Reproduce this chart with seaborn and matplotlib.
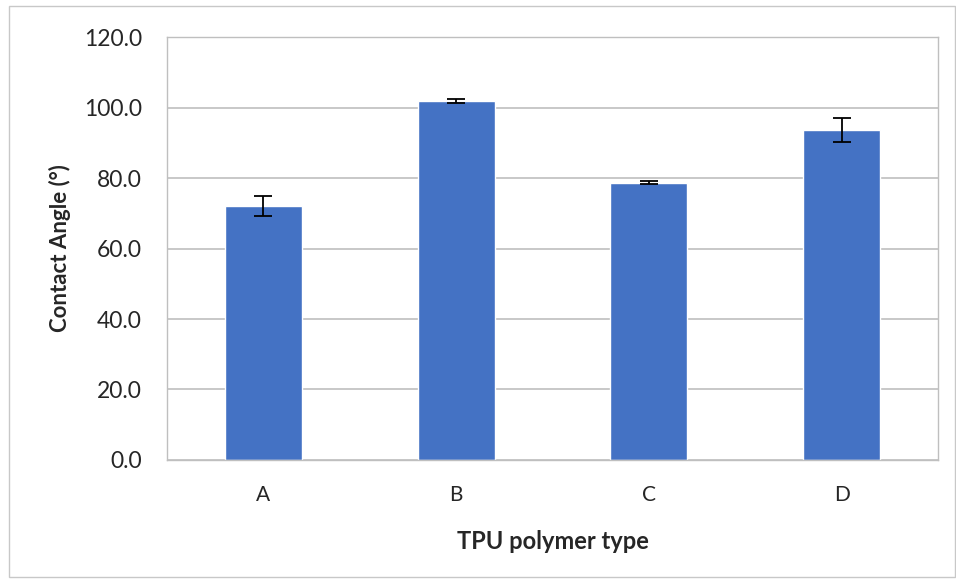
import pandas as pd
import seaborn as sns
import matplotlib.pyplot as plt

# Data
polymers = ['A', 'B', 'C', 'D']
contact_angle = [72.1, 101.8, 78.7, 93.6]
angle_err = [2.9, 0.65, 0.45, 3.4]

df = pd.DataFrame({'TPU polymer type': polymers, 'Contact Angle': contact_angle})

sns.set_style('white')
plt.rcParams['font.family'] = ['Lato', 'DejaVu Sans']

fig = plt.figure(figsize=(9.56, 5.8), dpi=100)
ax = fig.add_axes([0.1747, 0.2069, 0.8065, 0.7293])

sns.barplot(data=df, x='TPU polymer type', y='Contact Angle', color='#4472C4',
            saturation=1, width=0.4, errorbar=None, ax=ax, zorder=2)
ax.errorbar(polymers, contact_angle, yerr=angle_err, fmt='none', ecolor='black',
            elinewidth=1.3, capsize=6.5, capthick=1.3, zorder=3)
ax.set_xlim(-0.5, 3.5)

ax.set_ylim(0, 120)
ax.set_yticks([0, 20, 40, 60, 80, 100, 120])
ax.set_yticklabels([f'{v:.1f}' for v in [0, 20, 40, 60, 80, 100, 120]], fontsize=16.5)
ax.tick_params(axis='x', labelsize=15, length=0, pad=18)
ax.tick_params(axis='y', length=0, pad=18)
ax.yaxis.grid(True, color='#BFBFBF', linewidth=1.2, zorder=0)
ax.set_axisbelow(True)
for s in ax.spines.values():
    s.set_color('#BFBFBF')
    s.set_linewidth(1.0)

ax.set_xlabel('TPU polymer type', fontsize=17, fontweight='bold', labelpad=18)
ax.set_ylabel('Contact Angle (°)', fontsize=16, fontweight='bold', labelpad=9)

# light outer frame like the Excel chart area
frame = plt.Rectangle((0.009, 0.005), 0.99, 0.985, transform=fig.transFigure,
                      fill=False, edgecolor='#C8C8C8', linewidth=1.0)
fig.patches.append(frame)

fig.savefig('out.png', dpi=100)
